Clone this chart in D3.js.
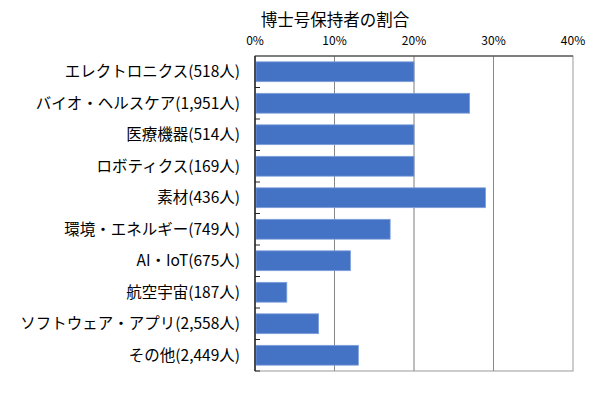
<!DOCTYPE html>
<html><head><meta charset="utf-8">
<script src="https://cdn.jsdelivr.net/npm/d3@7"></script>
<style>
body{margin:0;background:#fff;}
text{font-family:"Noto Sans CJK JP","Noto Sans",sans-serif;fill:#000;}
</style></head>
<body><svg id="c" width="600" height="398"></svg>
<script>
const categories = ["エレクトロニクス(518人)","バイオ・ヘルスケア(1,951人)","医療機器(514人)","ロボティクス(169人)","素材(436人)","環境・エネルギー(749人)","AI・IoT(675人)","航空宇宙(187人)","ソフトウェア・アプリ(2,558人)","その他(2,449人)"];
const values = [20, 27, 20, 20, 29, 17, 12, 4, 8, 13];
const ticks = [0, 10, 20, 30, 40];
const title = "博士号保持者の割合";

const svg = d3.select("#c");
const L = 255, R = 573, T = 56, B = 371;
const x = d3.scaleLinear().domain([0, 40]).range([L, R]);
const y = d3.scaleBand().domain(categories).range([T, B]).paddingInner(0.37).paddingOuter(0.185);
const yb = d3.scaleBand().domain(categories).range([T, B]);

// gridlines
svg.append("g").selectAll("line").data([10, 20, 30]).join("line")
  .attr("x1", d => x(d)).attr("x2", d => x(d)).attr("y1", T).attr("y2", B)
  .attr("stroke", d => d === 20 ? "#bdbdbd" : "#888").attr("stroke-width", d => d === 20 ? 2 : 1);

// frame
svg.append("rect").attr("x", L).attr("y", T).attr("width", R - L).attr("height", B - T)
  .attr("fill", "none").attr("stroke", "#999").attr("stroke-width", 1);
svg.append("line").attr("x1", L).attr("x2", R).attr("y1", T).attr("y2", T).attr("stroke", "#333");

// bars
svg.append("g").selectAll("rect").data(values).join("rect")
  .attr("x", x(0) + 1).attr("y", (d, i) => y(categories[i]))
  .attr("width", d => x(d) - x(0) - 1).attr("height", y.bandwidth())
  .attr("fill", "#4472C4").attr("stroke", "#7e9fdb").attr("stroke-width", 0.8);

// left axis
svg.append("line").attr("x1", L).attr("x2", L).attr("y1", T).attr("y2", B).attr("stroke", "#222").attr("stroke-width", 1.5);
svg.append("g").selectAll("line").data(categories).join("line")
  .attr("x1", L).attr("x2", L + 5)
  .attr("y1", d => yb(d) + yb.bandwidth()).attr("y2", d => yb(d) + yb.bandwidth())
  .attr("stroke", "#222").attr("stroke-width", 1);

// top tick labels
svg.append("g").selectAll("text").data(ticks).join("text")
  .attr("x", d => x(d)).attr("y", 45).attr("text-anchor", "middle")
  .attr("font-size", 12).text(d => d + "%");

// category labels
svg.append("g").selectAll("text").data(categories).join("text")
  .attr("x", 240).attr("y", d => yb(d) + yb.bandwidth() / 2).attr("dy", "0.35em")
  .attr("text-anchor", "end").attr("font-size", 15.5).text(d => d);

// title
svg.append("text").attr("x", 335).attr("y", 26).attr("text-anchor", "middle")
  .attr("font-size", 16.5).text(title);
</script></body></html>
